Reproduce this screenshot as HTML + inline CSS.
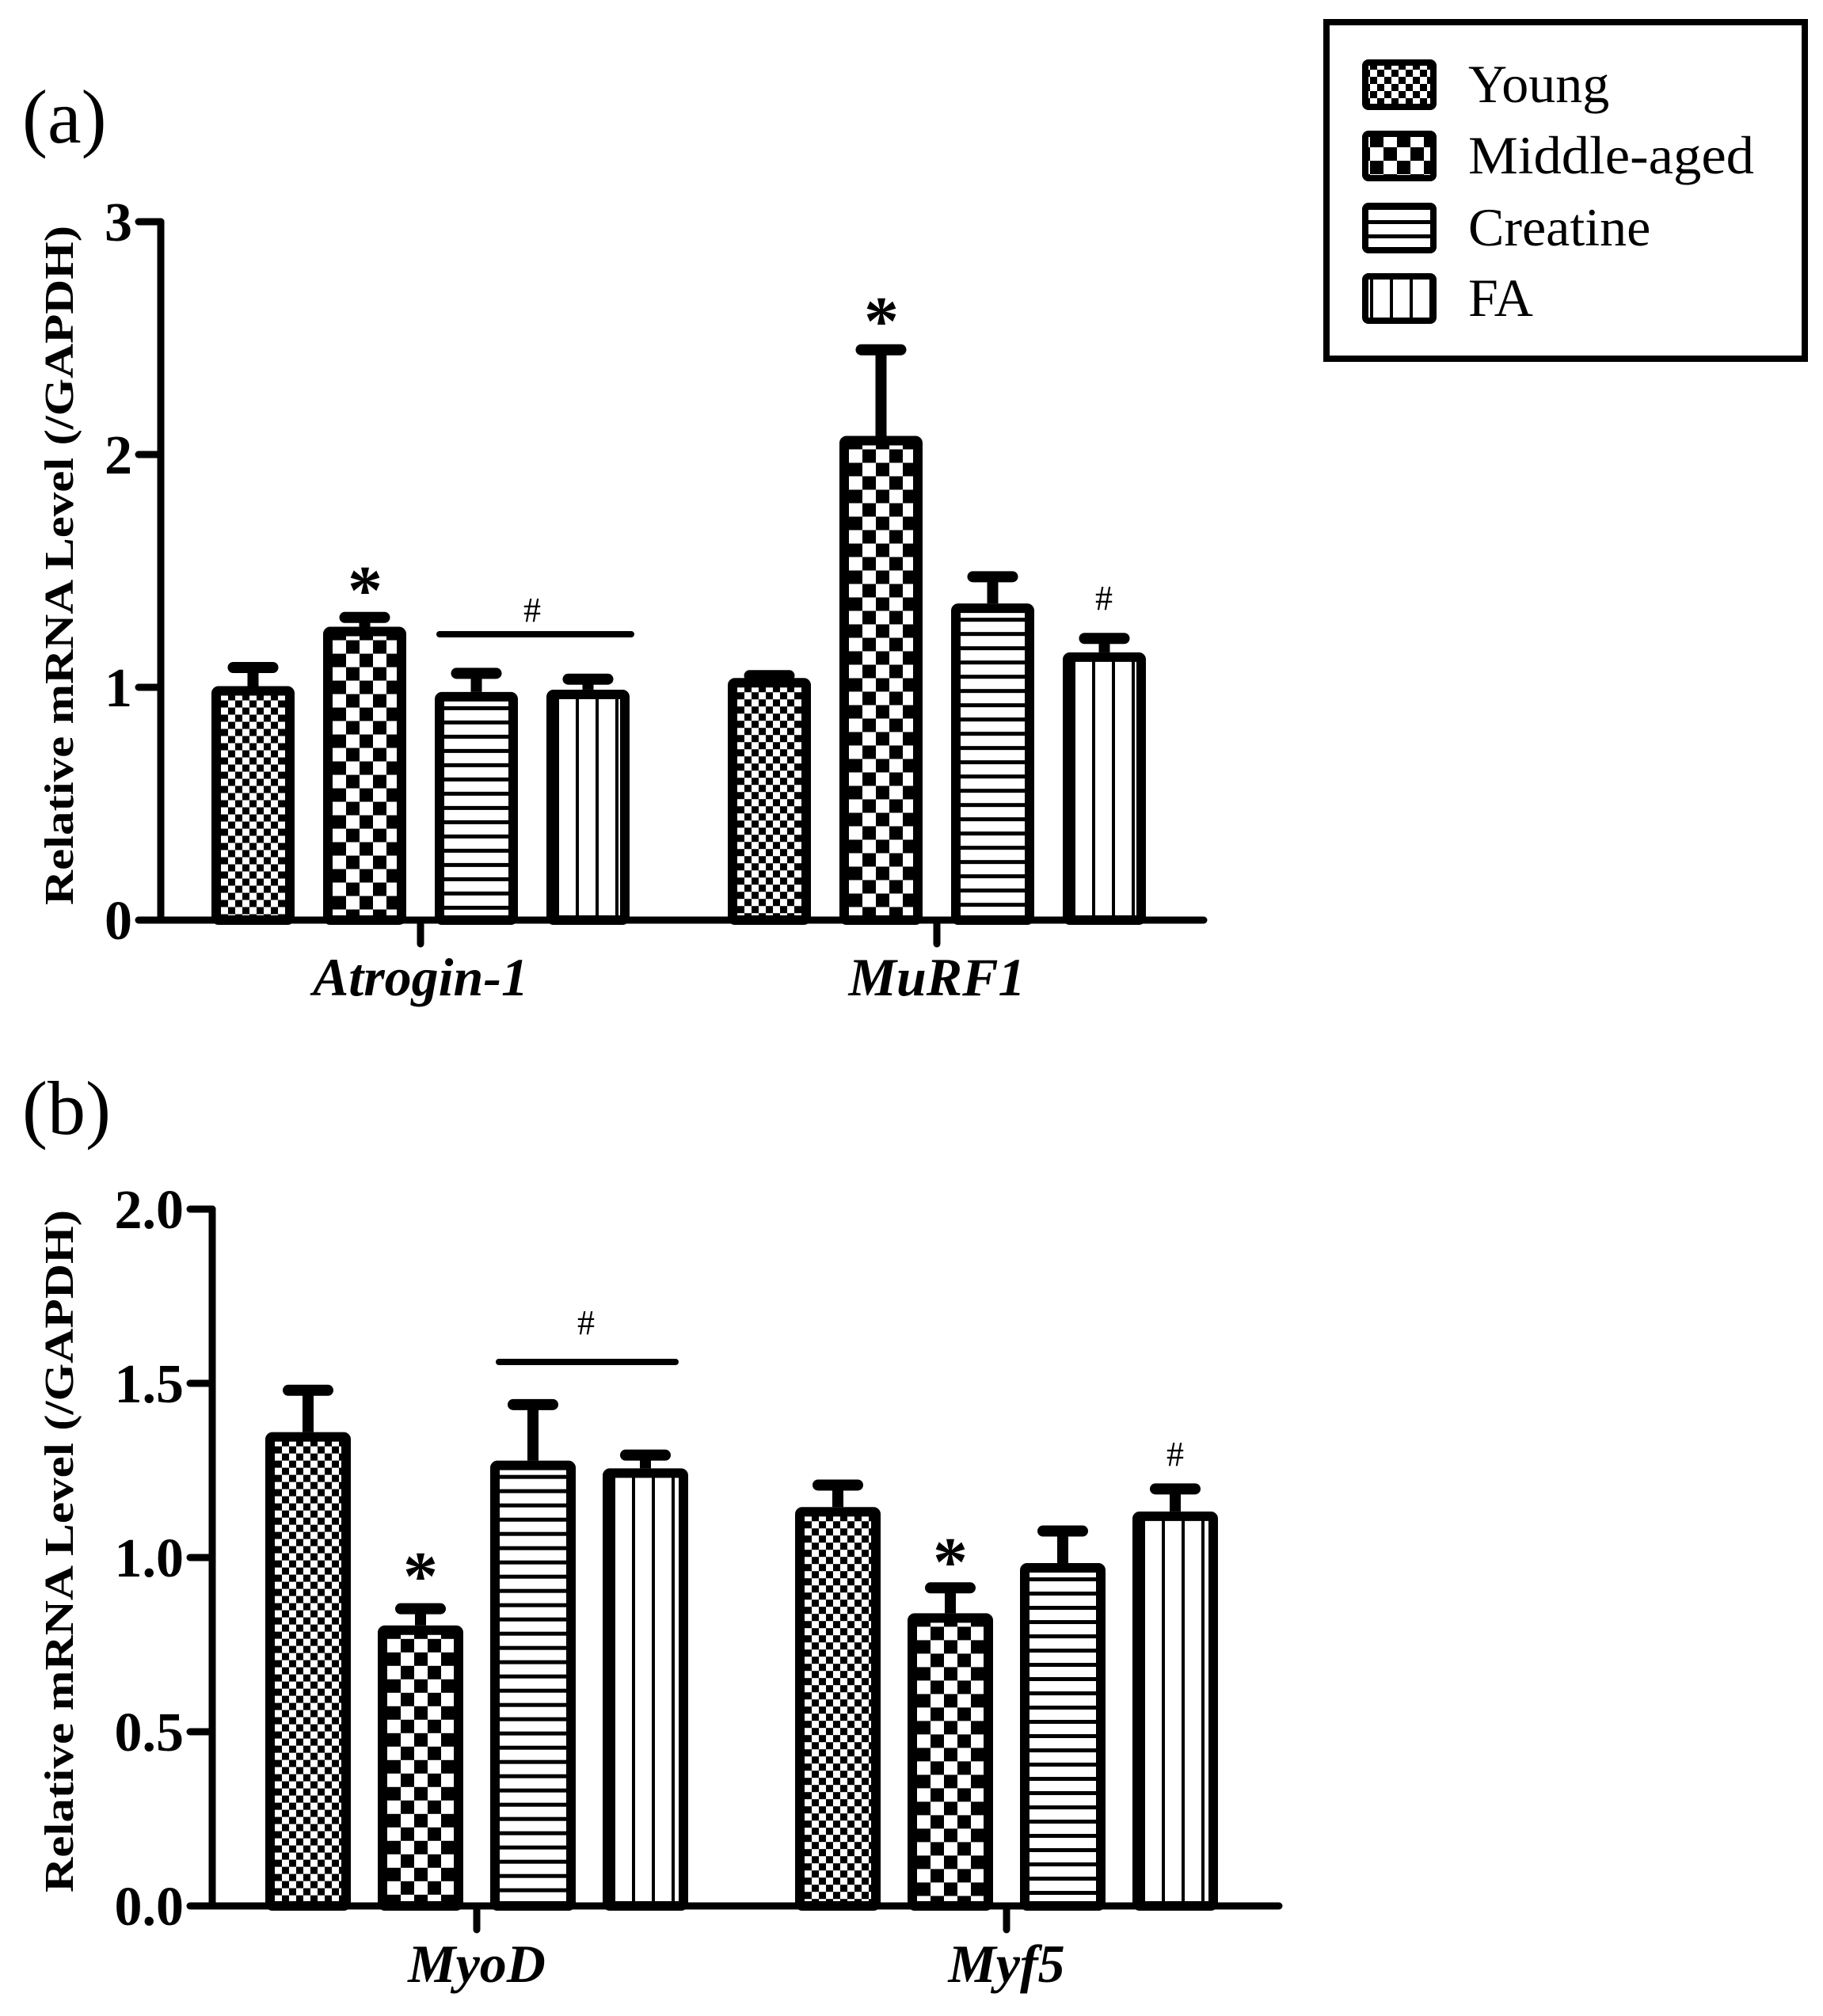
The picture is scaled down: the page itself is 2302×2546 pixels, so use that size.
<!DOCTYPE html>
<html><head><meta charset="utf-8"><style>
html,body{margin:0;padding:0;background:#fff;}
svg{display:block;}
text{font-family:"Liberation Serif",serif;fill:#000;}
</style></head>
<body>
<svg id="chart" width="2302" height="2546" viewBox="0 0 2302 2546" xmlns="http://www.w3.org/2000/svg">
<defs id="defs"></defs>
<text x="28" y="180" font-size="96">(a)</text>
<text x="28" y="1432" font-size="96">(b)</text>
<g>
<rect x="1675" y="28" width="604" height="425" fill="#fff" stroke="#000" stroke-width="8"/>
<g id="legendItems"></g>
</g>
<g id="plots"></g>
</svg>
<script>
const groups = ["Young","Middle-aged","Creatine","FA"];
const catsA = ["Atrogin-1","MuRF1"];
const meanA = [[1.005,1.04],[1.26,2.08],[0.98,1.36],[0.99,1.15]];
const errA = [[1.085,1.05],[1.30,2.45],[1.06,1.475],[1.035,1.21]];
const ticksA = ["0","1","2","3"];
const tickValsA = [0,1,2,3];
const catsB = ["MyoD","Myf5"];
const meanB = [[1.36,1.145],[0.805,0.84],[1.278,0.984],[1.256,1.132]];
const errB = [[1.48,1.208],[0.853,0.913],[1.439,1.076],[1.294,1.197]];
const ticksB = ["0.0","0.5","1.0","1.5","2.0"];
const tickValsB = [0,0.5,1,1.5,2];

const NS="http://www.w3.org/2000/svg";
const svg=document.getElementById('chart');
const defs=document.getElementById('defs');
function mk(tag,attrs,parent){const e=document.createElementNS(NS,tag);for(const k in attrs)e.setAttribute(k,attrs[k]);(parent||svg).appendChild(e);return e;}
let pid=0;
function pattern(kind,ox,oy){
  const id='p'+(pid++);
  let w,h;
  if(kind===0){w=18;h=18;}else if(kind===1){w=34;h=34;}else if(kind===2){w=10;h=18;}else{w=25;h=10;}
  const p=mk('pattern',{id:id,patternUnits:'userSpaceOnUse',width:w,height:h,x:ox,y:oy},defs);
  mk('rect',{x:0,y:0,width:w,height:h,fill:'#fff'},p);
  if(kind===0){mk('rect',{x:0,y:0,width:9,height:9,fill:'#000'},p);mk('rect',{x:9,y:9,width:9,height:9,fill:'#000'},p);}
  else if(kind===1){mk('rect',{x:0,y:0,width:17,height:17,fill:'#000'},p);mk('rect',{x:17,y:17,width:17,height:17,fill:'#000'},p);}
  else if(kind===2){mk('rect',{x:0,y:0,width:w,height:5,fill:'#000'},p);}
  else {mk('rect',{x:0,y:0,width:4,height:h,fill:'#000'},p);}
  return 'url(#'+id+')';
}
function panel(cfg){
  const g=mk('g',{},document.getElementById('plots'));
  
  
  const y=v=>cfg.y0-(v/cfg.max)*(cfg.y0-cfg.ytop);
  const t=mk('text',{x:0,y:0,'font-size':52,'font-weight':'bold','text-anchor':'middle',transform:`translate(${cfg.titleX},${cfg.titleY}) rotate(-90)`,textLength:cfg.titleLen,lengthAdjust:'spacingAndGlyphs'},g);
  t.textContent='Relative mRNA Level (/GAPDH)';
  
  
  cfg.tickVals.forEach((v,i)=>{
    const l=mk('line',{x1:cfg.ax-28,x2:cfg.ax,y1:y(v),y2:y(v),stroke:'#000','stroke-width':9,'stroke-linecap':'round'},g);
    
    
    const tx=mk('text',{x:cfg.ax-36,y:y(v)+24,'font-size':70,'font-weight':'bold','text-anchor':'end'},g);
    tx.textContent=cfg.ticks[i];
    
    
  });
  cfg.cats.forEach((c,ci)=>{
    const cx=cfg.centers[ci];
    cfg.mean.forEach((ser,si)=>{
      const v=ser[ci], e=cfg.err[si][ci];
      const bx=cx+(si-1.5)*cfg.pitch-cfg.bw/2;
      const el=mk('line',{x1:bx+cfg.bw/2,x2:bx+cfg.bw/2,y1:y(v),y2:y(e),stroke:'#000','stroke-width':14},g);
      
      
      const cap=mk('line',{x1:bx+cfg.bw/2-25,x2:bx+cfg.bw/2+25,y1:y(e),y2:y(e),stroke:'#000','stroke-width':14,'stroke-linecap':'round'},g);
      
      
      const r=mk('rect',{x:bx+6,y:y(v)+6,width:cfg.bw-12,height:cfg.y0-y(v)-6,fill:pattern(si,bx+12,y(v)),stroke:'#000','stroke-width':12,rx:3},g);
      
      
    });
    const ct=mk('line',{x1:cx,x2:cx,y1:cfg.y0,y2:cfg.y0+30,stroke:'#000','stroke-width':9,'stroke-linecap':'round'},g);
    
    
    const lt=mk('text',{x:cx,y:cfg.labelY,'font-size':68,'font-weight':'bold','font-style':'italic','text-anchor':'middle'},g);
    lt.textContent=c;
    
    
  });
  const ya=mk('line',{x1:cfg.ax,x2:cfg.ax,y1:cfg.ytop,y2:cfg.y0,stroke:'#000','stroke-width':9,'stroke-linecap':'round'},g);
  
  
  const xa=mk('line',{x1:cfg.ax,x2:cfg.xend,y1:cfg.y0,y2:cfg.y0,stroke:'#000','stroke-width':9,'stroke-linecap':'round'},g);
  
  
  cfg.marks.forEach(m=>{
    if(m.t==='line'){const l=mk('line',{x1:m.x1,x2:m.x2,y1:m.y,y2:m.y,stroke:'#000','stroke-width':8,'stroke-linecap':'round'},g);
      
      }
    else{const s=mk('text',{x:m.x,y:m.y,'font-size':m.t==='*'?88:44,'font-weight':m.t==='*'?'bold':'normal','text-anchor':'middle'},g);
      s.textContent=m.t;
      
      }
  });
}
panel({name:'panel-a',cats:catsA,mean:meanA,err:errA,ticks:ticksA,tickVals:tickValsA,max:3,y0:1162,ytop:280,ax:203,xend:1520,
  centers:[531,1183],pitch:141,bw:105,labelY:1257,titleX:92,titleY:714,titleLen:858,
  marks:[{t:'*',x:461,y:775},{t:'line',x1:555,x2:797,y:801},{t:'#',x:672,y:785},{t:'*',x:1113,y:435},{t:'#',x:1394,y:770}]});
panel({name:'panel-b',cats:catsB,mean:meanB,err:errB,ticks:ticksB,tickVals:tickValsB,max:2,y0:2407,ytop:1527,ax:268,xend:1615,
  centers:[602,1271],pitch:142,bw:108,labelY:2503,titleX:92,titleY:1959,titleLen:862,
  marks:[{t:'*',x:531,y:2020},{t:'line',x1:630,x2:853,y:1720},{t:'#',x:740,y:1685},{t:'*',x:1200,y:2002},{t:'#',x:1484,y:1851}]});
const li=document.getElementById('legendItems');
const rows=[107,197,288,377];
groups.forEach((gname,i)=>{
  const sw=mk('rect',{x:1724,y:rows[i]-28,width:86,height:56,fill:pattern(i,1730,rows[i]-28),stroke:'#000','stroke-width':8,rx:4},li);
  
  
  const t=mk('text',{x:1854,y:rows[i]+22,'font-size':68},li);
  if(gname==='Middle-aged'){t.setAttribute('textLength','361');t.setAttribute('lengthAdjust','spacingAndGlyphs');}
  t.textContent=gname;
  
  
});
</script>
</body></html>
